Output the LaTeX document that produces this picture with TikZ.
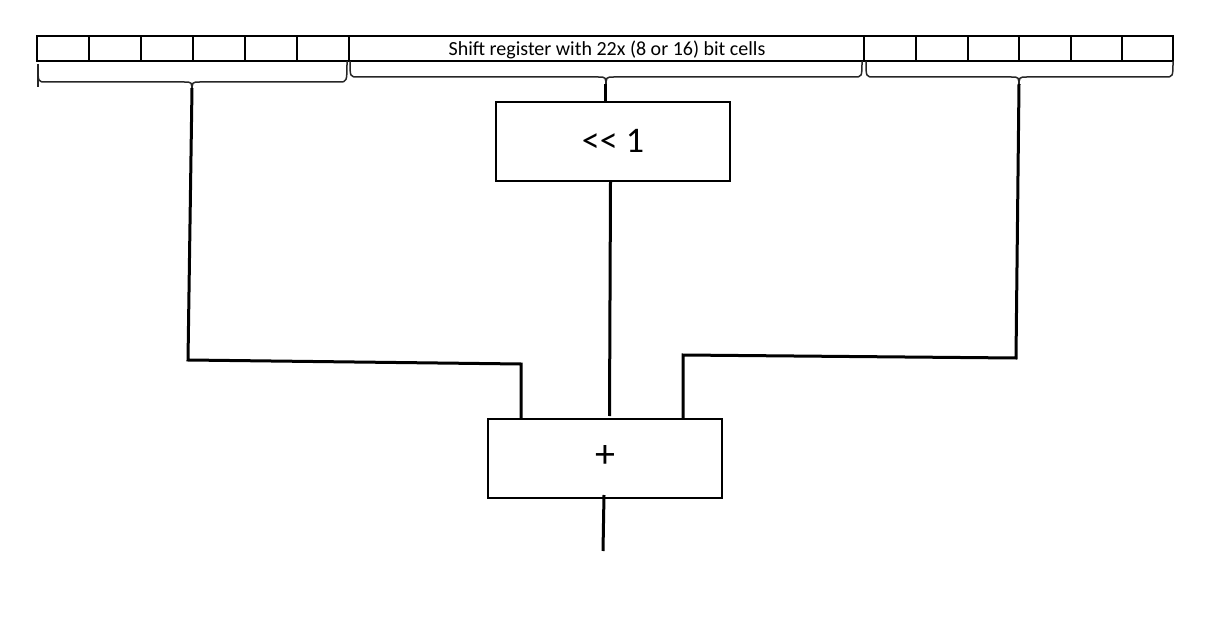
\documentclass[tikz,border=0pt]{standalone}
\usepackage{fontspec}
\setmainfont{Carlito}
\begin{document}
\begin{tikzpicture}[x=1pt,y=-1pt,
  cell/.style={draw,line width=1.1pt},
  opbox/.style={draw,line width=1.1pt,minimum width=234pt,minimum height=79pt,inner sep=0pt},
  brace/.style={line width=1.5pt,black!85},
  wire/.style={line width=3pt}]
\useasboundingbox (0,0) rectangle (1211,631);
% register
\foreach \a/\b in {37/89,89/141,141/193,193/245,245/297,297/349,864/916,916/968,968/1019,1019/1071,1071/1122,1122/1173}
  \draw[cell] (\a,36) rectangle (\b,61);
\draw[cell] (349,36) rectangle (864,61);
\node[font=\fontsize{20}{22}\selectfont,inner sep=0pt] (reglabel) at (607,50) {Shift register with 22x (8 or 16) bit cells};
% braces
\draw[brace] (38,64) -- (38,87);
\draw[brace] (38,66) .. controls (38,82) .. (46,82) -- (184,82) .. controls (192,82) .. (192,92);
\draw[brace] (347,61) .. controls (347,82) .. (339,82) -- (200,82) .. controls (192,82) .. (192,92);
\draw[brace] (350,61) .. controls (350,77) .. (358,77) -- (598,77) .. controls (606,77) .. (606,87);
\draw[brace] (862,61) .. controls (862,77) .. (854,77) -- (614,77) .. controls (606,77) .. (606,87);
\draw[brace] (866,61) .. controls (866,77) .. (874,77) -- (1011,77) .. controls (1019,77) .. (1019,87);
\draw[brace] (1173,61) .. controls (1173,77) .. (1165,77) -- (1027,77) .. controls (1019,77) .. (1019,87);
\coordinate (ltip) at (192,88);
\coordinate (mtip) at (605.5,84);
\coordinate (rtip) at (1019,84);
% boxes
\node[opbox,font=\fontsize{36}{40}\selectfont] (shift) at (613,141.5) {\raisebox{1pt}{{<}{<} 1}};
\node[opbox,font=\fontsize{40}{44}\selectfont] (add) at (605,458.5) {\raisebox{4pt}{+}};
\draw[line width=2.2pt] (mtip) -- (shift.north -| mtip);
% wires
\coordinate (lc1) at (188,360);
\coordinate (lc2) at (521,364);
\coordinate (rc1) at (1016,358);
\coordinate (rc2) at (683,355);
\coordinate (mtop) at (610.5,182);
\coordinate (mend) at (609.5,416);
\coordinate (outa) at (604,495);
\coordinate (out) at (603,551);
\draw[wire] (ltip) -- (lc1) -- (lc2) -- (lc2 |- add.north);
\draw[wire] (rtip) -- (rc1) -- (rc2) -- (rc2 |- add.north);
\draw[wire] (mtop) -- (mend);
\draw[wire] (outa) -- (out);
\end{tikzpicture}
\end{document}
